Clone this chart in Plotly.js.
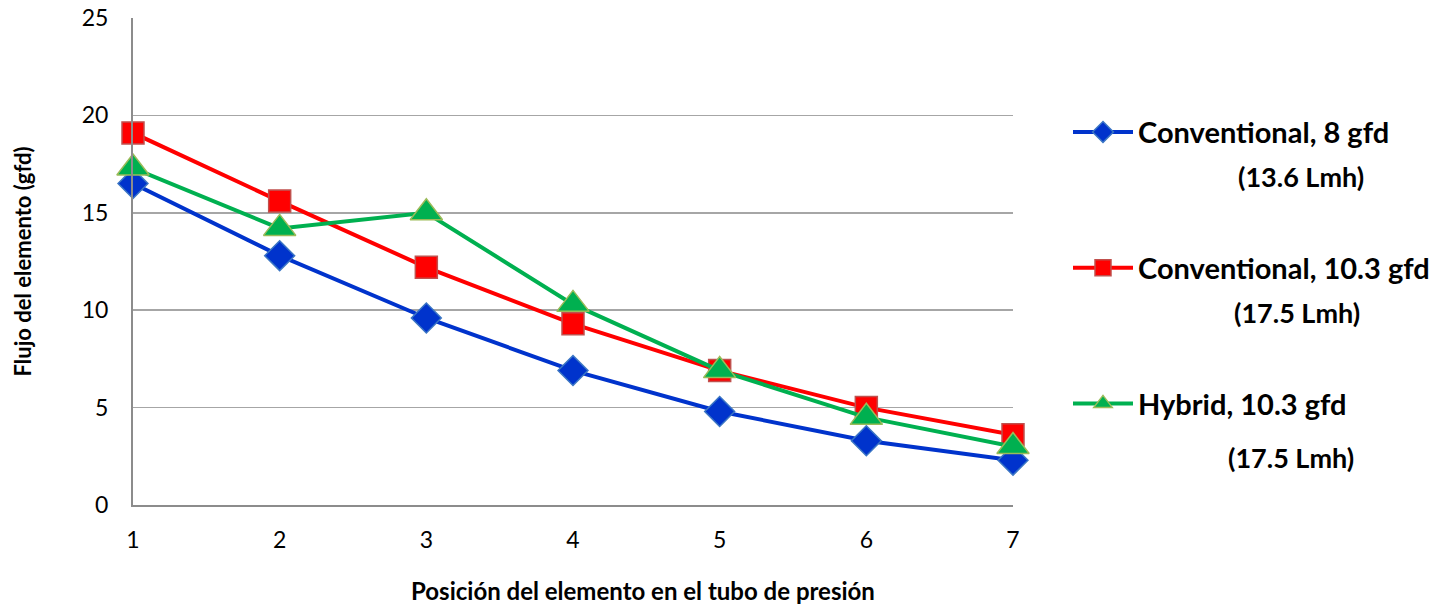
<!DOCTYPE html>
<html>
<head>
<meta charset="utf-8">
<script src="https://cdn.plot.ly/plotly-3.0.1.min.js"></script>
<style>html,body{margin:0;padding:0;background:#fff;}#chart{width:1440px;height:605px;}</style>
</head>
<body>
<div id="chart"></div>
<script>
const positions = [1, 2, 3, 4, 5, 6, 7];
const conventional8 = [16.5, 12.8, 9.6, 6.9, 4.8, 3.3, 2.3];
const conventional103 = [19.1, 15.6, 12.2, 9.3, 6.9, 5.0, 3.6];
const hybrid103 = [17.3, 14.2, 15.0, 10.3, 6.9, 4.5, 3.0];
const seriesNames = ["Conventional, 8 gfd", "Conventional, 10.3 gfd", "Hybrid, 10.3 gfd"];
const seriesSub = ["(13.6 Lmh)", "(17.5 Lmh)", "(17.5 Lmh)"];
const yTicks = [0, 5, 10, 15, 20, 25];

const FONT = "Lato, 'Open Sans', sans-serif";

const traces = [
  {x: positions, y: conventional8, name: seriesNames[0], legendgroup: "a", mode: "lines+markers",
   line: {color: "#0033CC", width: 4},
   marker: {symbol: "diamond", size: 23, color: "#0033CC", line: {color: "#3A75C4", width: 1.5}}},
  {x: positions, y: conventional103, name: seriesNames[1], legendgroup: "b", mode: "lines+markers",
   line: {color: "#FF0000", width: 4},
   marker: {symbol: "square", size: 22, color: "#FF0000", line: {color: "#C0504D", width: 1.5}}},
  {x: positions, y: hybrid103, name: seriesNames[2], legendgroup: "c", mode: "lines+markers",
   line: {color: "#00B050", width: 4},
   marker: {symbol: "triangle-up", size: 28, color: "#00B050", line: {color: "#9BBB59", width: 1.5}}}
].map(t => Object.assign(t, {cliponaxis: false}));

const layout = {
  width: 1440, height: 605,
  margin: {l: 133, r: 427, t: 18, b: 100, autoexpand: false},
  paper_bgcolor: "#ffffff", plot_bgcolor: "#ffffff",
  font: {family: FONT, color: "#000000", size: 22},
  showlegend: true,
  legend: {
    x: 1.0625, y: 0.818, xanchor: "left", yanchor: "top",
    traceorder: "grouped", tracegroupgap: 95,
    font: {family: FONT, size: 29, color: "#000", weight: "bold"},
    itemwidth: 60, bgcolor: "rgba(0,0,0,0)"
  },
  xaxis: {
    range: [1, 7], tickvals: positions, ticktext: positions.map(String),
    showgrid: false, zeroline: false, showline: true, linecolor: "#8C8C8C", linewidth: 2,
    ticks: "outside", ticklen: 13, tickcolor: "rgba(0,0,0,0)",
    tickfont: {family: FONT, size: 23, color: "#000"}
  },
  yaxis: {
    range: [0, 25], tickvals: yTicks,
    showgrid: true, gridcolor: "#A6A6A6", gridwidth: 1.5, zeroline: false,
    showline: true, linecolor: "#8C8C8C", linewidth: 2,
    ticks: "outside", ticklen: 18, tickcolor: "rgba(0,0,0,0)",
    tickfont: {family: FONT, size: 23, color: "#000"},
    title: {text: "Flujo del elemento (gfd)", standoff: 44,
            font: {family: FONT, size: 22, color: "#000", weight: "bold"}}
  },
  annotations: [
    {xref: "paper", yref: "paper", x: (643 - 133) / 880, y: (605 - 100 - 590) / 487,
     text: "Posición del elemento en el tubo de presión", showarrow: false,
     xanchor: "center", yanchor: "middle",
     font: {family: FONT, size: 24, color: "#000", weight: "bold"}},
    {xref: "paper", yref: "paper", x: (1301 - 133) / 880, y: (505 - 176) / 487, text: seriesSub[0],
     showarrow: false, xanchor: "center", yanchor: "middle",
     font: {family: FONT, size: 27, color: "#000", weight: "bold"}},
    {xref: "paper", yref: "paper", x: (1297 - 133) / 880, y: (505 - 313) / 487, text: seriesSub[1],
     showarrow: false, xanchor: "center", yanchor: "middle",
     font: {family: FONT, size: 27, color: "#000", weight: "bold"}},
    {xref: "paper", yref: "paper", x: (1291 - 133) / 880, y: (505 - 457) / 487, text: seriesSub[2],
     showarrow: false, xanchor: "center", yanchor: "middle",
     font: {family: FONT, size: 27, color: "#000", weight: "bold"}}
  ]
};

Plotly.newPlot("chart", traces, layout, {displayModeBar: false, staticPlot: true});
</script>
</body>
</html>
